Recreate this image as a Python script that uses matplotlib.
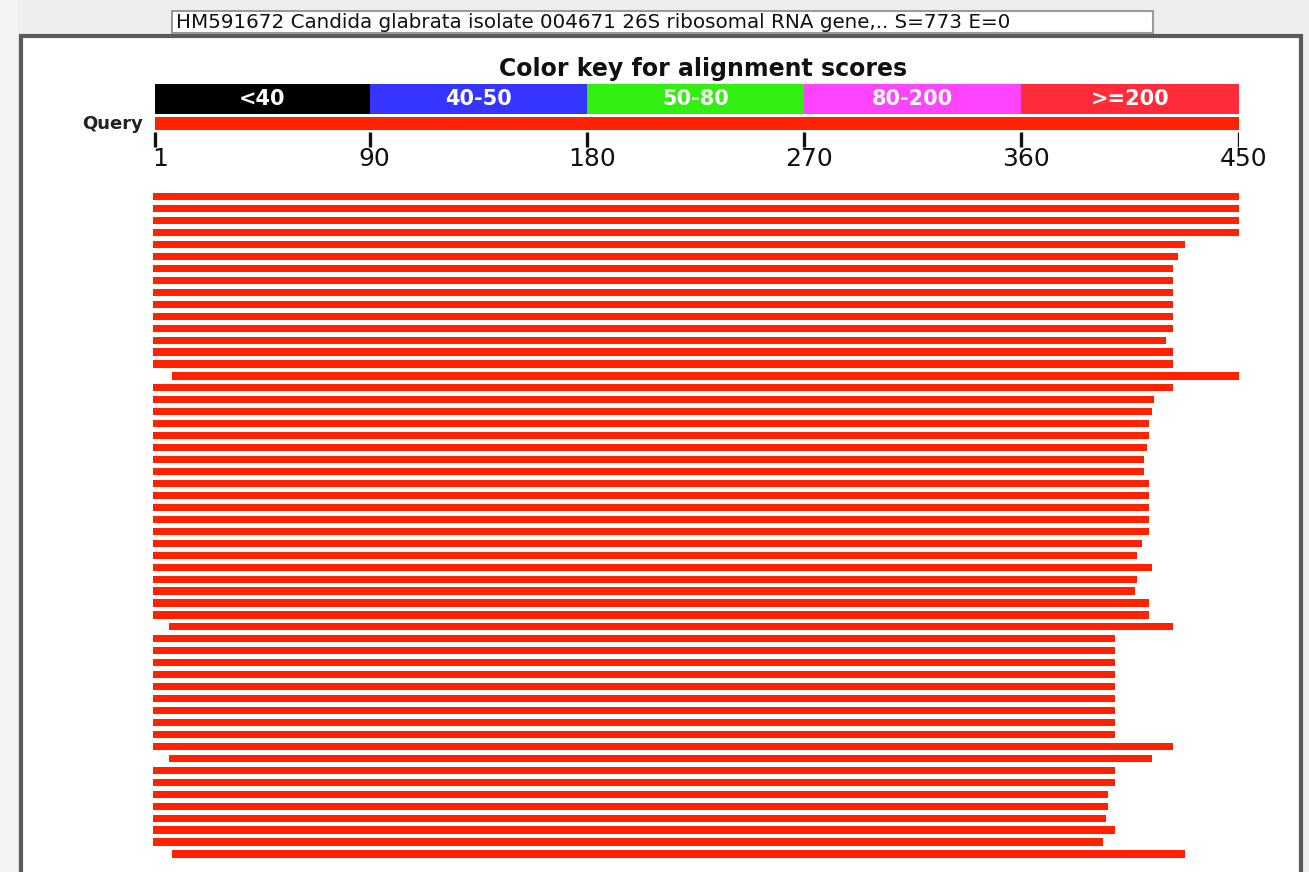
import matplotlib
matplotlib.use("Agg")
import matplotlib.pyplot as plt
from matplotlib.patches import Rectangle

# ---------------- data ----------------
header_text = "HM591672 Candida glabrata isolate 004671 26S ribosomal RNA gene,.. S=773 E=0"
key_title = "Color key for alignment scores"
key_edges = [1, 90, 180, 270, 360, 450]
key_labels = ["<40", "40-50", "50-80", "80-200", ">=200"]
key_colors = ["#000000", "#3535ff", "#33ee11", "#ff44ff", "#ff2a3a"]
tick_values = [1, 90, 180, 270, 360, 450]
tick_labels = ["1", "90", "180", "270", "360", "450"]
query_start = 1
query_end = 450

hit_starts = [1, 1, 1, 1, 1, 1, 1, 1, 1, 1,
              1, 1, 1, 1, 1, 9, 1, 1, 1, 1,
              1, 1, 1, 1, 1, 1, 1, 1, 1, 1,
              1, 1, 1, 1, 1, 1, 8, 1, 1, 1,
              1, 1, 1, 1, 1, 1, 1, 8, 1, 1,
              1, 1, 1, 1, 1, 9]
hit_ends = [450, 450, 450, 450, 428, 425, 423, 423, 423, 423,
            423, 423, 420, 423, 423, 450, 423, 415, 414, 413,
            413, 412, 411, 411, 413, 413, 413, 413, 413, 410,
            408, 414, 408, 407, 413, 413, 423, 399, 399, 399,
            399, 399, 399, 399, 399, 399, 423, 414, 399, 399,
            396, 396, 395, 399, 394, 428]

hit_color = "#ff2200"

# ---------------- figure ----------------
W, H = 1309, 872
fig = plt.figure(figsize=(W / 100, H / 100), dpi=100)
fig.patch.set_facecolor("#eeeeee")

# background decoration axes in pixel coordinates
bg = fig.add_axes([0, 0, 1, 1])
bg.set_xlim(0, W)
bg.set_ylim(H, 0)
bg.axis("off")
bg.add_patch(Rectangle((0, 0), 18, H, facecolor="#f3f3f6", edgecolor="none"))
bg.add_patch(Rectangle((21, 36), 1280, 900, facecolor="white",
                       edgecolor="#5a5a5a", linewidth=3.0))
bg.add_patch(Rectangle((172, 11), 981, 22, facecolor="white",
                       edgecolor="#9a9a9a", linewidth=1.5))
bg.text(176, 22.5, header_text, fontsize=14.3, color="#111111",
        ha="left", va="center", family="DejaVu Sans")

# pixel mapping for sequence coordinate axis
x0_px, x1_px = 152.5, 1238.5


def fx(px):
    return px / W


def fy(py):
    return 1 - py / H


# ---------------- color key + query axes ----------------
ky0, ky1 = 55, 175
kax = fig.add_axes([fx(x0_px), fy(ky1), fx(x1_px) - fx(x0_px), (ky1 - ky0) / H])
kax.set_xlim(0, 450)
kax.set_ylim(ky1, ky0)
kax.axis("off")

for i, lab in enumerate(key_labels):
    left = key_edges[i]
    width = key_edges[i + 1] - key_edges[i]
    kax.barh(98.8, width, left=left, height=30.5, color=key_colors[i],
             edgecolor="none")
    kax.text(left + width / 2, 99, lab, color="white", fontsize=15,
             fontweight="bold", ha="center", va="center")

kax.barh(123.3, query_end - query_start, left=query_start, height=13.5,
         color=hit_color, edgecolor="none")
kax.vlines(tick_values, 132, 147, color="#111111", linewidth=2.4)
for v, lab in zip(tick_values, tick_labels):
    kax.text(v + 2, 159, lab, fontsize=18, color="#111111", ha="center",
             va="center")

fig.text(fx(703), fy(69), key_title, fontsize=17, fontweight="bold",
         ha="center", va="center", color="#111111")
fig.text(fx(143), fy(124), "Query", fontsize=13, fontweight="bold",
         ha="right", va="center", color="#222222")

# ---------------- hits axes ----------------
n = len(hit_ends)
y_first, step = 196.7, 11.95
top_px = y_first - step / 2
bot_px = y_first + (n - 0.5) * step
hax = fig.add_axes([fx(x0_px), fy(bot_px), fx(x1_px) - fx(x0_px),
                    (bot_px - top_px) / H])
hax.set_xlim(0, 450)
hax.set_ylim(n - 0.5, -0.5)
hax.axis("off")
lefts = [s - 1 for s in hit_starts]
widths = [e - (s - 1) for s, e in zip(hit_starts, hit_ends)]
hax.barh(list(range(n)), widths, left=lefts, height=0.6, color=hit_color,
         edgecolor="none")

fig.savefig("out.png", dpi=100, facecolor=fig.get_facecolor())
